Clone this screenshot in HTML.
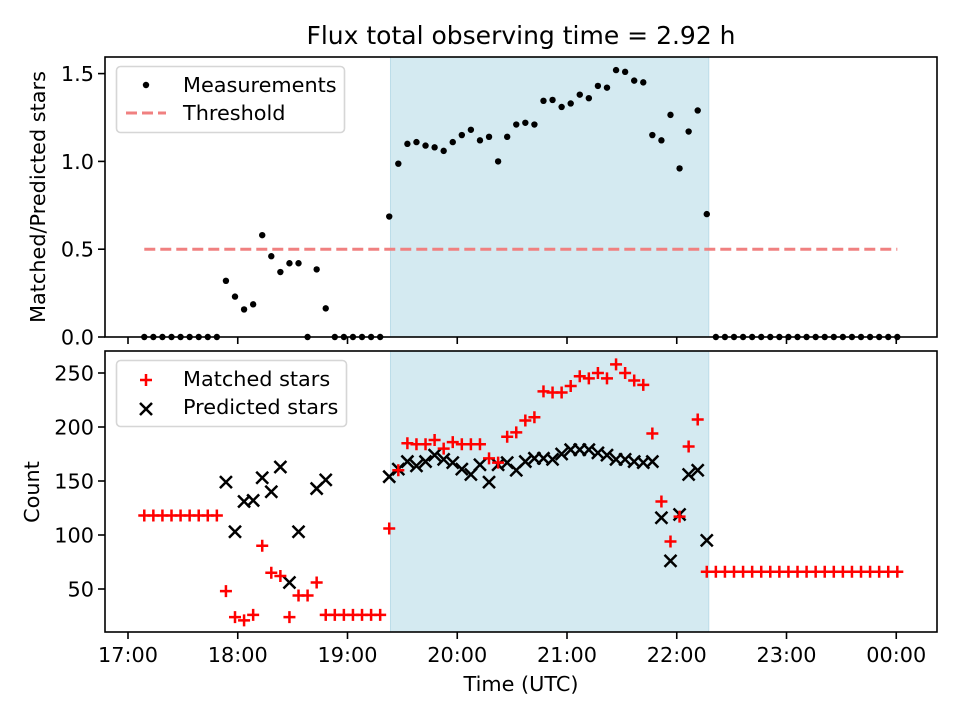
<!DOCTYPE html>
<html><head><meta charset="utf-8"><style>
body{margin:0;background:#fff}
svg{display:block;font-family:"DejaVu Sans","Liberation Sans",sans-serif}
</style></head><body>
<svg id="c" width="960" height="720" xmlns="http://www.w3.org/2000/svg"></svg>
<script>
const times=[];const T0=17*60+8.9,DT=4.96;
for(let i=0;i<84;i++)times.push(T0+i*DT);
const ratio=[0,0,0,0,0,0,0,0,0,0.32,0.23,0.157,0.186,0.58,0.46,0.37,0.42,0.42,0,0.385,0.163,0,0,0,0,0,0,
0.686,0.987,1.10,1.11,1.09,1.08,1.06,1.11,1.15,1.18,1.12,1.14,1.0,1.14,1.21,1.22,1.21,1.345,1.35,1.31,1.33,1.38,1.36,1.43,1.42,1.52,1.51,1.46,1.45,1.15,1.12,1.265,0.96,1.17,1.29,0.70,
0,0,0,0,0,0,0,0,0,0,0,0,0,0,0,0,0,0,0,0,0];
const matched=[118,118,118,118,118,118,118,118,118,48,24,21,26,90,65,62,24,44,44,56,26,26,26,26,26,26,26,
106,160,185,184,184,188,180,186,184,184,184,171,167,191,195,206,209,233,232,232,238,247,245,250,245,258,250,243,239,194,131,94,117,182,207,66,
66,66,66,66,66,66,66,66,66,66,66,66,66,66,66,66,66,66,66,66,66];
const predicted=[null,null,null,null,null,null,null,null,null,149,103,131,132,153,140,163,56,103,null,143,151,null,null,null,null,null,null,
154,161,168,164,168,174,170,167,161,156,165,149,165,167,160,168,171,171,170,175,179,179,179,176,174,170,170,168,167,168,116,76,119,156,160,95,
null,null,null,null,null,null,null,null,null,null,null,null,null,null,null,null,null,null,null,null,null];
const threshold=0.5;
const spanStart=19*60+23.5, spanEnd=22*60+17.5;
const xTicks=[17,18,19,20,21,22,23,24];
const xTickLabels=["17:00","18:00","19:00","20:00","21:00","22:00","23:00","00:00"];
const topTicks=[0,0.5,1.0,1.5];
const botTicks=[50,100,150,200,250];

const svg=document.getElementById('c');const NS='http://www.w3.org/2000/svg';
function el(t,a,p){const e=document.createElementNS(NS,t);for(const k in a)e.setAttribute(k,a[k]);(p||svg).appendChild(e);return e;}
const X0=105,X1=937,FS=20.8;
const xs=m=>128+(m-17*60)*(109.75/60);
const yTop=v=>337-v*175.6;
const yBot=v=>643-1.08*v;

function panel(top,bot,name){
  const g=el('g',{});
  
  
  const s=el('rect',{x:xs(spanStart),y:top,width:xs(spanEnd)-xs(spanStart),height:bot-top,fill:'#d4eaf1',stroke:'#bcdde9','stroke-width':1},g);
  
  
  return g;
}
function frame(top,bot){el('rect',{x:X0,y:top,width:X1-X0,height:bot-top,fill:'none',stroke:'#000','stroke-width':1.6});}

// top panel
const gT=panel(57,337,'top-panel');
const th=el('line',{x1:xs(times[0]),x2:xs(times[83]),y1:yTop(threshold),y2:yTop(threshold),stroke:'#f08080','stroke-width':3,'stroke-dasharray':'11,5'},gT);


ratio.forEach((v,i)=>{const c=el('circle',{cx:xs(times[i]),cy:yTop(v),r:3.2,fill:'#000'},gT);

});
frame(57,337);
topTicks.forEach(v=>{const y=yTop(v);el('line',{x1:X0-7,x2:X0,y1:y,y2:y,stroke:'#000','stroke-width':1.6});
const t=el('text',{x:X0-11,y:y+7.5,'text-anchor':'end','font-size':FS});t.textContent=v.toFixed(1);

});
xTicks.forEach(h=>{const x=xs(h*60);el('line',{x1:x,x2:x,y1:337,y2:344,stroke:'#000','stroke-width':1.6});});
let t=el('text',{x:45,y:197,'text-anchor':'middle','font-size':FS,transform:'rotate(-90 45 197)'});t.textContent='Matched/Predicted stars';

t=el('text',{x:521,y:44,'text-anchor':'middle','font-size':25});t.textContent='Flux total observing time = 2.92 h';


// bottom panel
const gB=panel(351,632,'bottom-panel');
predicted.forEach((v,i)=>{if(v==null)return;const x=xs(times[i]),y=yBot(v),d=6;
const p=el('path',{d:`M${x-d},${y-d}L${x+d},${y+d}M${x-d},${y+d}L${x+d},${y-d}`,stroke:'#000','stroke-width':2.5},gB);

});
matched.forEach((v,i)=>{const x=xs(times[i]),y=yBot(v),d=6;
const p=el('path',{d:`M${x-d},${y}L${x+d},${y}M${x},${y-d}L${x},${y+d}`,stroke:'#f00','stroke-width':2.5},gB);

});
frame(351,632);
botTicks.forEach(v=>{const y=yBot(v);el('line',{x1:X0-7,x2:X0,y1:y,y2:y,stroke:'#000','stroke-width':1.6});
const t=el('text',{x:X0-11,y:y+7.5,'text-anchor':'end','font-size':FS});t.textContent=v;

});
xTicks.forEach((h,i)=>{const x=xs(h*60);el('line',{x1:x,x2:x,y1:632,y2:639,stroke:'#000','stroke-width':1.6});
const t=el('text',{x:x,y:662,'text-anchor':'middle','font-size':FS});t.textContent=xTickLabels[i];

});
t=el('text',{x:39,y:492,'text-anchor':'middle','font-size':FS,transform:'rotate(-90 39 492)'});t.textContent='Count';

t=el('text',{x:521,y:691,'text-anchor':'middle','font-size':FS});t.textContent='Time (UTC)';


// legends
let lg=el('g',{});

el('rect',{x:116.5,y:66.5,width:228,height:66,rx:4,fill:'rgba(255,255,255,0.8)',stroke:'#d6d6d6','stroke-width':1.6},lg);
el('circle',{cx:146,cy:85,r:3.2,fill:'#000'},lg);
t=el('text',{x:183,y:92,'font-size':FS},lg);t.textContent='Measurements';

el('line',{x1:126,x2:166,y1:113,y2:113,stroke:'#f08080','stroke-width':3,'stroke-dasharray':'11,5'},lg);
t=el('text',{x:183,y:120,'font-size':FS},lg);t.textContent='Threshold';


lg=el('g',{});

el('rect',{x:116.5,y:360.5,width:230,height:66,rx:4,fill:'rgba(255,255,255,0.8)',stroke:'#d6d6d6','stroke-width':1.6},lg);
el('path',{d:'M140,380L152,380M146,374L146,386',stroke:'#f00','stroke-width':2.5},lg);
t=el('text',{x:183,y:386,'font-size':FS},lg);t.textContent='Matched stars';

el('path',{d:'M140,403L152,415M140,415L152,403',stroke:'#000','stroke-width':2.5},lg);
t=el('text',{x:183,y:414,'font-size':FS},lg);t.textContent='Predicted stars';

</script>
</body></html>
